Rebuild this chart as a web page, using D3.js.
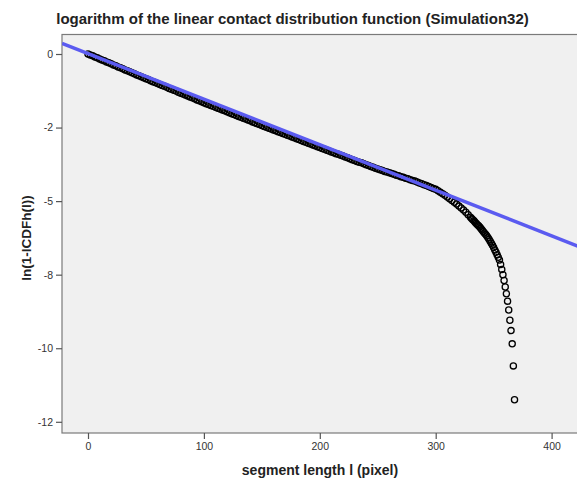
<!DOCTYPE html>
<html>
<head>
<meta charset="utf-8">
<script src="https://cdn.jsdelivr.net/npm/d3@7"></script>
<style>
  body { margin: 0; background: #fff; }
  svg { display: block; font-family: Arial, "Liberation Sans", sans-serif; }
</style>
</head>
<body>
<div id="chart"></div>
<script>
// segment length l (pixel)
var lengths = [
  0, 2, 4, 6, 8, 10, 12, 14, 16, 18, 20, 22, 24, 26, 28, 30, 32, 34, 36, 38, 40, 42, 44, 46, 48, 50,
  52, 54, 56, 58, 60, 62, 64, 66, 68, 70, 72, 74, 76, 78, 80, 82, 84, 86, 88, 90, 92, 94, 96, 98, 100,
  102, 104, 106, 108, 110, 112, 114, 116, 118, 120, 122, 124, 126, 128, 130, 132, 134, 136, 138, 140, 142, 144, 146, 148, 150,
  152, 154, 156, 158, 160, 162, 164, 166, 168, 170, 172, 174, 176, 178, 180, 182, 184, 186, 188, 190, 192, 194, 196, 198, 200,
  202, 204, 206, 208, 210, 212, 214, 216, 218, 220, 222, 224, 226, 228, 230, 232, 234, 236, 238, 240, 242, 244, 246, 248, 250,
  252, 254, 256, 258, 260, 262, 264, 266, 268, 270, 272, 274, 276, 278, 280, 282, 284, 286, 288, 290, 292, 294, 296, 298, 300,
  302, 304, 306, 308, 310, 312, 314, 316, 318, 320, 322, 324, 326, 328, 330,
  331, 332, 333, 334, 335, 336, 337, 338, 339, 340, 341, 342, 343, 344, 345, 346, 347, 348, 349,
  350, 351, 352, 353, 354, 355, 356, 357, 358, 359, 360, 361, 362, 363, 364, 365, 366, 367, 368
];

// ln(1-lCDFh(l))
var logValues = [
  0.00, -0.03, -0.06, -0.10, -0.13, -0.17, -0.20, -0.23, -0.27, -0.30, -0.33, -0.37, -0.40, -0.44, -0.47, -0.50, -0.54, -0.57, -0.60, -0.64, -0.67, -0.71, -0.74, -0.77, -0.81, -0.84,
  -0.87, -0.91, -0.94, -0.97, -1.00, -1.04, -1.07, -1.10, -1.13, -1.17, -1.20, -1.23, -1.26, -1.30, -1.33, -1.36, -1.39, -1.43, -1.46, -1.49, -1.52, -1.56, -1.59, -1.62, -1.66,
  -1.69, -1.72, -1.75, -1.78, -1.81, -1.84, -1.87, -1.90, -1.93, -1.96, -2.00, -2.03, -2.06, -2.09, -2.12, -2.15, -2.18, -2.21, -2.24, -2.27, -2.31, -2.34, -2.37, -2.40, -2.43,
  -2.46, -2.49, -2.52, -2.55, -2.58, -2.61, -2.64, -2.67, -2.70, -2.73, -2.76, -2.79, -2.82, -2.85, -2.88, -2.91, -2.94, -2.97, -3.00, -3.03, -3.06, -3.09, -3.12, -3.15, -3.18,
  -3.21, -3.24, -3.27, -3.30, -3.33, -3.36, -3.39, -3.41, -3.44, -3.47, -3.50, -3.53, -3.56, -3.59, -3.62, -3.65, -3.68, -3.70, -3.73, -3.76, -3.79, -3.82, -3.85, -3.88, -3.91,
  -3.93, -3.96, -3.99, -4.01, -4.04, -4.06, -4.09, -4.12, -4.14, -4.17, -4.19, -4.22, -4.24, -4.27, -4.30, -4.32, -4.35, -4.38, -4.41, -4.44, -4.47, -4.50, -4.54, -4.57, -4.60,
  -4.65, -4.70, -4.75, -4.80, -4.86, -4.92, -4.98, -5.04, -5.10, -5.17, -5.23, -5.30, -5.38, -5.46, -5.55,
  -5.59, -5.63, -5.67, -5.72, -5.76, -5.80, -5.84, -5.88, -5.93, -5.98, -6.03, -6.08, -6.13, -6.18, -6.24, -6.30, -6.36, -6.43, -6.50,
  -6.58, -6.66, -6.74, -6.82, -6.91, -7.00, -7.15, -7.32, -7.50, -7.70, -7.92, -8.15, -8.40, -8.70, -9.05, -9.40, -9.85, -10.60, -11.75
];

// fitted line ln(1-lCDFh(l)) = intercept + slope * l
var fitIntercept = 0.013;
var fitSlope = -0.01548;

var xTicks = [0, 100, 200, 300, 400];
var yTicks = [0, -2.5, -5, -7.5, -10, -12.5];
var yTickLabels = ["0", "-2", "-5", "-8", "-10", "-12"];

var points = lengths.map(function(l, i) { return { l: l, v: logValues[i] }; });

var width = 577, height = 481;
var plot = { left: 62, top: 34.5, right: 580, bottom: 433 };

var svg = d3.select("#chart")
  .append("svg")
    .attr("width", width)
    .attr("height", height);

var x = d3.scaleLinear()
  .domain([0, 400])
  .range([88, 551.6]);

var y = d3.scaleLinear()
  .domain([0, -12.5])
  .range([54, 421.8]);

// title
svg.append("text")
  .attr("x", 292.5)
  .attr("y", 24)
  .attr("text-anchor", "middle")
  .style("font-size", "15px")
  .style("font-weight", "bold")
  .style("fill", "#222")
  .text("logarithm of the linear contact distribution function (Simulation32)");

// plot background
svg.append("rect")
  .attr("x", plot.left)
  .attr("y", plot.top)
  .attr("width", plot.right - plot.left)
  .attr("height", plot.bottom - plot.top)
  .attr("fill", "#f0f0f0")
  .attr("stroke", "#7a7a7a")
  .attr("stroke-width", 1.2);

svg.append("clipPath")
    .attr("id", "clip")
  .append("rect")
    .attr("x", plot.left)
    .attr("y", plot.top)
    .attr("width", plot.right - plot.left)
    .attr("height", plot.bottom - plot.top);

// y axis
var yAxis = svg.append("g")
  .attr("transform", "translate(" + plot.left + ",0)")
  .call(d3.axisLeft(y)
    .tickValues(yTicks)
    .tickFormat(function(d, i) { return yTickLabels[i]; })
    .tickSize(6)
    .tickPadding(3));
yAxis.select(".domain").remove();
yAxis.selectAll("line").attr("stroke", "#555").attr("stroke-width", 1.2);
yAxis.selectAll("text").style("font-size", "10.5px").style("fill", "#333")
  .style("font-family", "Arial, 'Liberation Sans', sans-serif");

// x axis
var xAxis = svg.append("g")
  .attr("transform", "translate(0," + plot.bottom + ")")
  .call(d3.axisBottom(x)
    .tickValues(xTicks)
    .tickSize(6)
    .tickPadding(4));
xAxis.select(".domain").remove();
xAxis.selectAll("line").attr("stroke", "#555").attr("stroke-width", 1.2);
xAxis.selectAll("text").style("font-size", "10.5px").style("fill", "#333")
  .style("font-family", "Arial, 'Liberation Sans', sans-serif");

// axis titles
svg.append("text")
  .attr("transform", "translate(31,238)rotate(-90)")
  .attr("text-anchor", "middle")
  .style("font-size", "13.5px")
  .style("font-weight", "bold")
  .style("fill", "#222")
  .text("ln(1-lCDFh(l))");

svg.append("text")
  .attr("x", 320)
  .attr("y", 475)
  .attr("text-anchor", "middle")
  .style("font-size", "14px")
  .style("font-weight", "bold")
  .style("fill", "#222")
  .text("segment length l (pixel)");

var g = svg.append("g").attr("clip-path", "url(#clip)");

// observed points
g.selectAll("circle")
  .data(points)
  .enter()
  .append("circle")
    .attr("cx", function(d) { return x(d.l); })
    .attr("cy", function(d) { return y(d.v); })
    .attr("r", 3.1)
    .attr("fill", "none")
    .attr("stroke", "#000")
    .attr("stroke-width", 1.3);

// fit line across the whole x range
var xDom = [x.invert(plot.left), x.invert(plot.right)];
g.append("path")
  .datum(xDom)
  .attr("fill", "none")
  .attr("stroke", "#5b5bf0")
  .attr("stroke-width", 3.5)
  .attr("d", d3.line()
    .x(function(d) { return x(d); })
    .y(function(d) { return y(fitIntercept + fitSlope * d); }));
</script>
</body>
</html>
